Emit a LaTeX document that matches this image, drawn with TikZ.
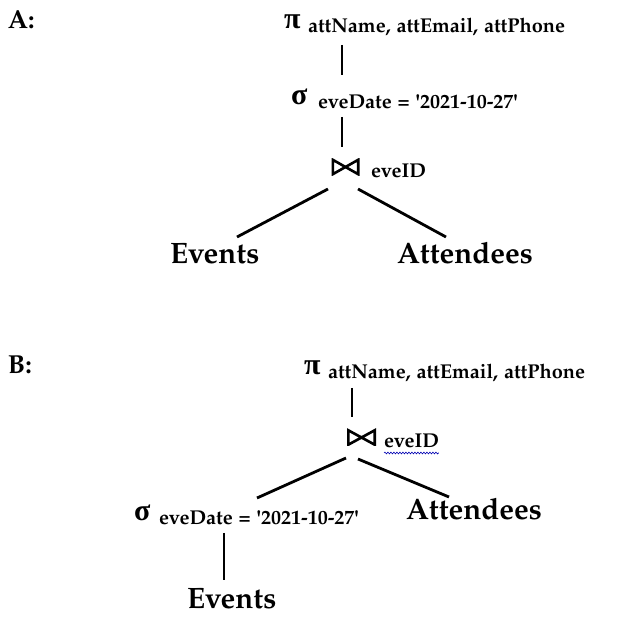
\documentclass[tikz,border=0pt]{standalone}
\usepackage[T1]{fontenc}
\usepackage{fontspec}
\newfontfamily\grk{Liberation Serif}
\newcommand\pal{\fontencoding{T1}\fontfamily{pplx}\selectfont}
\usetikzlibrary{decorations.pathmorphing}
\tikzset{
  base/.style={anchor=base west, inner sep=0pt, outer sep=0pt},
  lbl/.style={base, font=\pal\bfseries\fontsize{26}{26}\selectfont},
  rel/.style={base, font=\pal\bfseries\fontsize{29.5}{29.5}\selectfont},
  sub/.style={base, font=\pal\bfseries\fontsize{20}{20}\selectfont},
  sym/.style={base, font=\grk\bfseries\fontsize{30}{30}\selectfont},
  edge/.style={line width=2.8pt},
  bowtie/.style={minimum width=#1, minimum height=17pt, inner sep=0pt,
    path picture={\draw[line width=2.6pt, line join=miter]
      ([shift={(1.3pt,-1.3pt)}]path picture bounding box.north west) --
      ([shift={(1.3pt,1.3pt)}]path picture bounding box.south west) --
      ([shift={(-1.3pt,-1.3pt)}]path picture bounding box.north east) --
      ([shift={(-1.3pt,1.3pt)}]path picture bounding box.south east) -- cycle;}},
}
\begin{document}
\begin{tikzpicture}[x=1pt,y=-1pt]
\useasboundingbox[fill=white] (0,0) rectangle (638,628);
% ---------- A ----------
\node[lbl] (labA) at (8,29) {A:};
\node[sym] (piA) at (284,29) {π};
\node[sub] (piAs) at (308,33) {attName, attEmail, attPhone};
\node[sym] (sigA) at (291,105) {σ};
\node[sub] (sigAs) at (318,109) {eveDate = \textquotesingle2021-10-27\textquotesingle};
\node[bowtie=28pt] (jA) at (345.5,167) {};
\node[sub] (jAs) at (371,178) {eveID};
\node[rel] (evA) at (170,264) {Events};
\node[rel] (atA) at (397,264) {Attendees};
\coordinate (a1) at (342,45);
\coordinate (a2) at (342,75);
\coordinate (a3) at (342,117);
\coordinate (a4) at (342,147);
\coordinate (a5) at (328,189);
\coordinate (a6) at (237,237);
\coordinate (a7) at (358,189);
\coordinate (a8) at (446,237);
\draw[edge] (a1) -- (a2);
\draw[edge] (a3) -- (a4);
\draw[edge] (a5) -- (a6);
\draw[edge] (a7) -- (a8);
% ---------- B ----------
\node[lbl] (labB) at (8,374) {B:};
\node[sym] (piB) at (304,375) {π};
\node[sub] (piBs) at (328,379) {attName, attEmail, attPhone};
\node[bowtie=29pt] (jB) at (361.5,437.5) {};
\node[sub] (jBs) at (384,448) {eveID};
\draw[blue!70!black, line width=0.6pt, decorate,
  decoration={snake, amplitude=0.9pt, segment length=3pt}]
  ([yshift=-5pt]jBs.base west) -- ([yshift=-5pt]jBs.base east);
\node[sym] (sigB) at (134,521) {σ};
\node[sub] (sigBs) at (159,525) {eveDate = \textquotesingle2021-10-27\textquotesingle};
\node[rel] (atB) at (406,520) {Attendees};
\node[rel] (evB) at (187,608) {Events};
\coordinate (b1) at (352,388);
\coordinate (b2) at (352,417);
\coordinate (b3) at (346,458);
\coordinate (b4) at (257,498);
\coordinate (b5) at (358,459);
\coordinate (b6) at (449,497);
\coordinate (b7) at (224,533);
\coordinate (b8) at (224,580);
\draw[edge] (b1) -- (b2);
\draw[edge] (b3) -- (b4);
\draw[edge] (b5) -- (b6);
\draw[edge] (b7) -- (b8);
\end{tikzpicture}
\end{document}
